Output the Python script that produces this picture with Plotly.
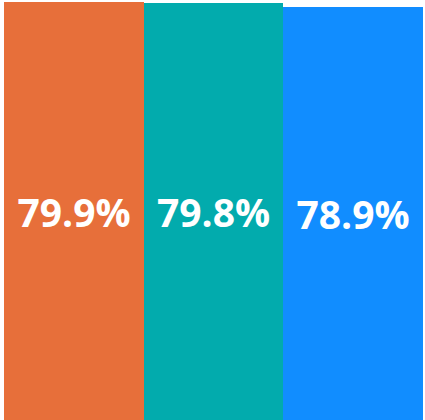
import plotly.graph_objects as go

categories = ["A", "B", "C"]
values = [79.9, 79.8, 78.9]
labels = ["79.9%", "79.8%", "78.9%"]
colors = ["#E76F3A", "#02ABAD", "#118DFF"]

fig = go.Figure(go.Bar(
    x=categories, y=values, text=labels,
    textposition="inside", insidetextanchor="middle",
    textfont=dict(family="Open Sans", size=39, color="white", weight="bold"),
    marker=dict(color=colors, line=dict(width=0)),
    textangle=0,
))
fig.update_layout(
    width=425, height=420,
    margin=dict(l=4, r=2, t=0, b=0),
    bargap=0,
    paper_bgcolor="white", plot_bgcolor="white",
    showlegend=False,
)
fig.update_xaxes(visible=False)
fig.update_yaxes(visible=False, range=[0, 80.28])
fig.write_html("out.html", config={"displayModeBar": False},
               post_script="document.body.style.margin='0px';document.body.style.padding='0px';")
